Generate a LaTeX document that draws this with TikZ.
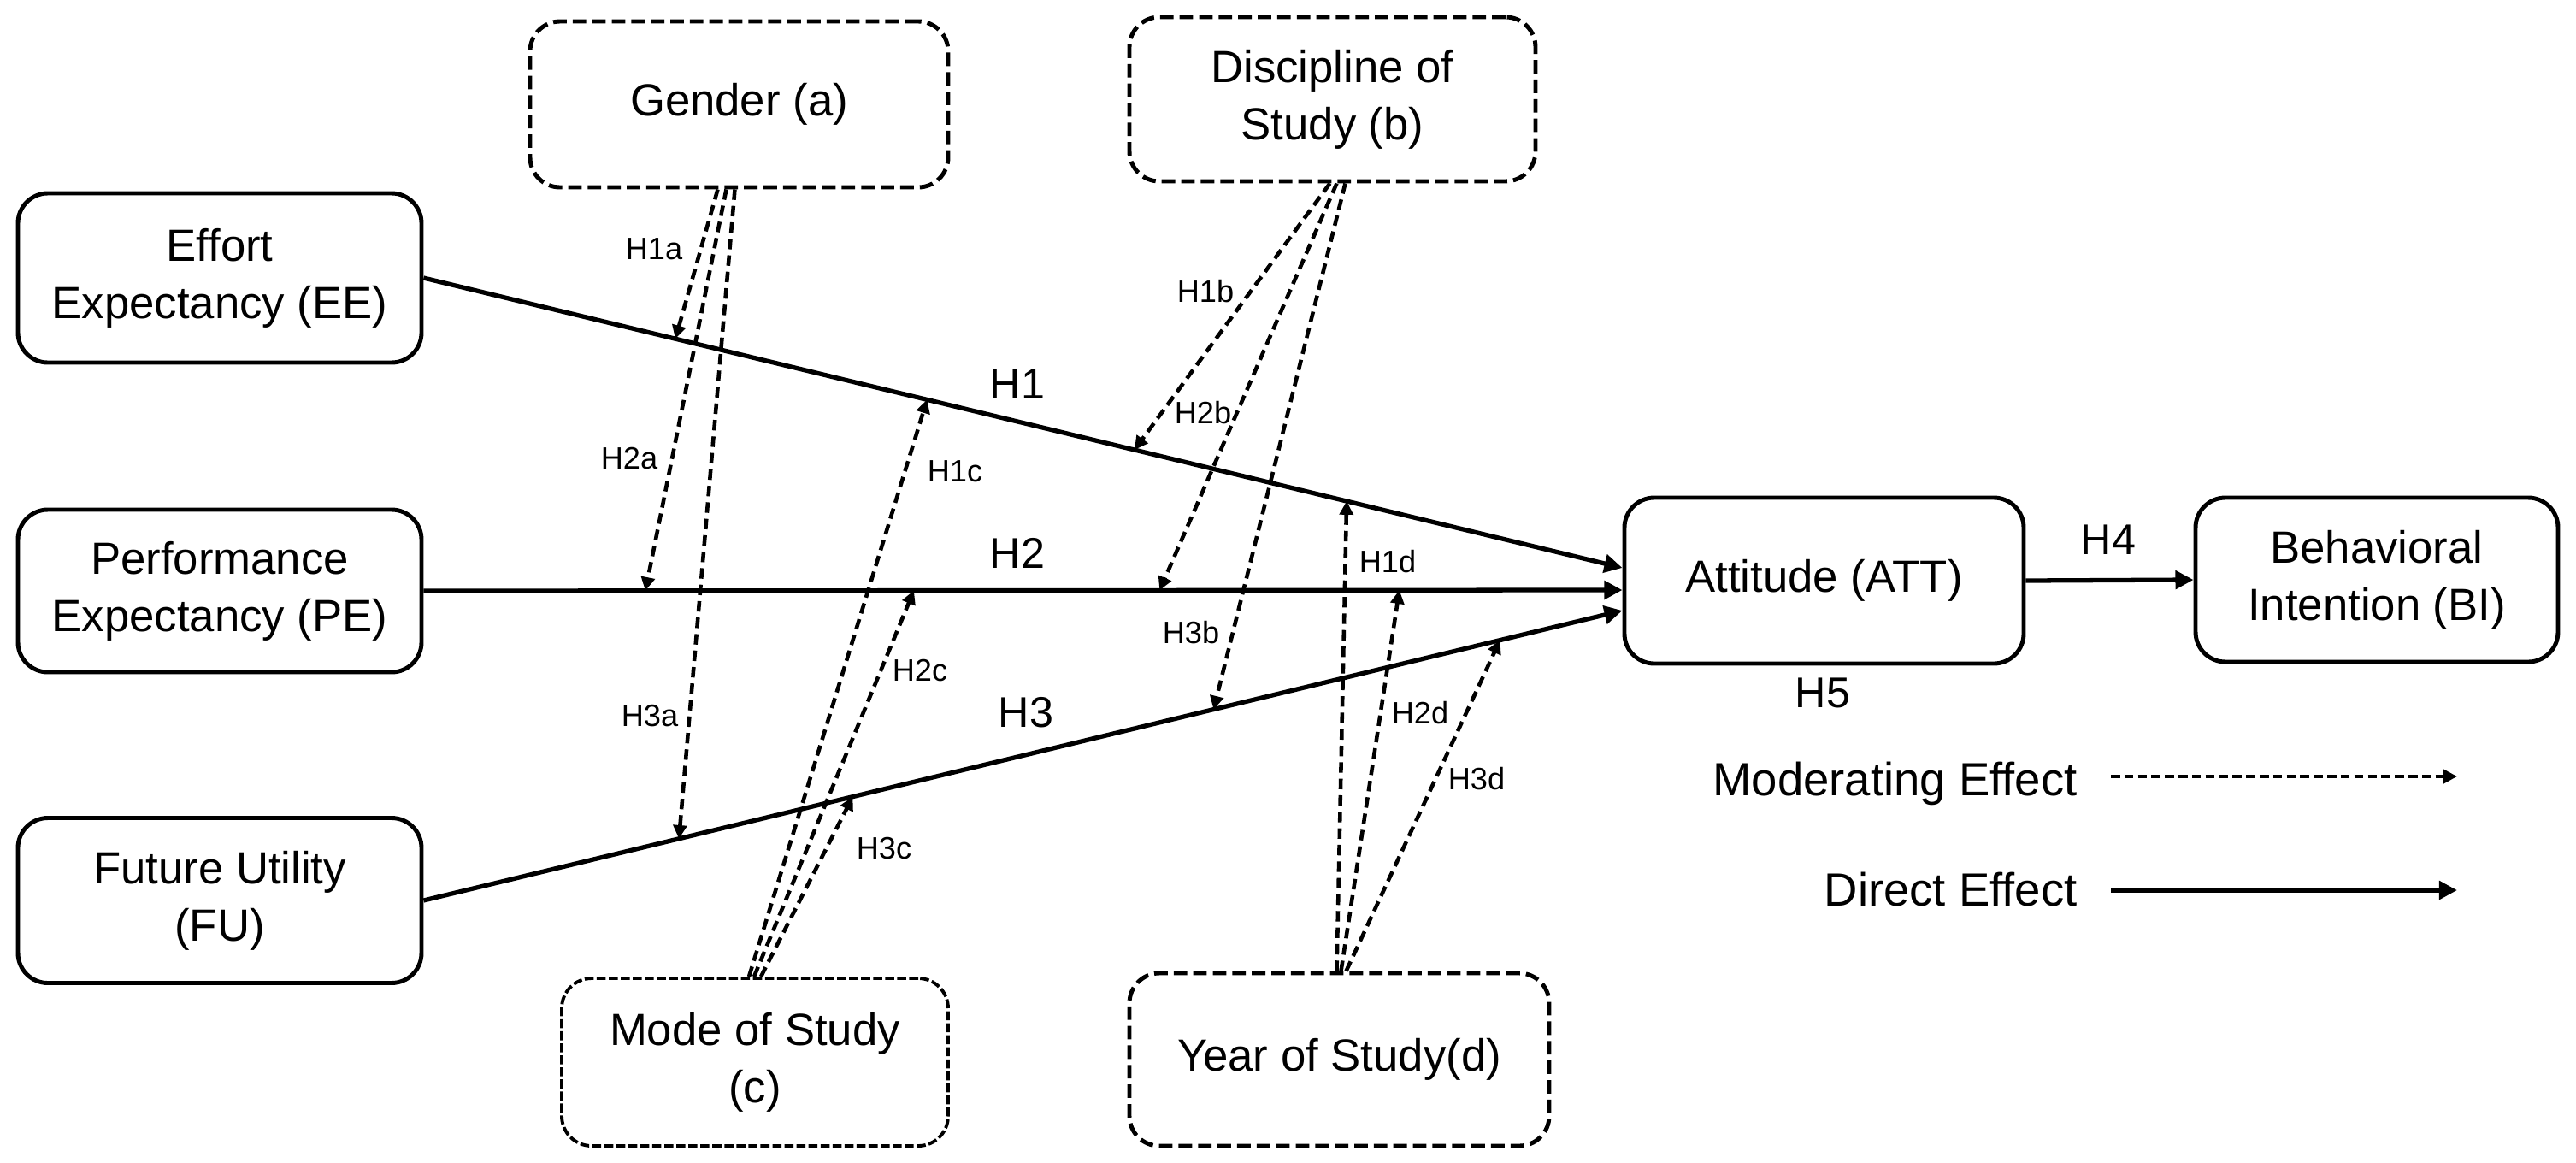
\documentclass[tikz,border=0pt]{standalone}
\usepackage{fontspec}
\setmainfont{Liberation Sans}
\usetikzlibrary{arrows.meta}

\begin{document}
\begin{tikzpicture}[line width=1.4pt]
	\tikzset{construct/.style={draw,rounded corners=0.35cm,align=center,inner sep=0pt,font=\fontsize{15}{19}\selectfont}}
	\tikzset{moderator/.style={construct,dash pattern=on 4.5pt off 2pt}}
	\tikzset{direct/.style={line width=1.5pt,-{Triangle[length=6pt,width=6pt]}}}
	\tikzset{moderating/.style={line width=1.3pt,dash pattern=on 3.5pt off 2pt,-{Triangle[length=4.5pt,width=4.5pt]}}}
	\tikzset{hyp/.style={font=\fontsize{14.3}{17}\selectfont}}
	\tikzset{sub/.style={font=\fontsize{10.3}{12}\selectfont,inner sep=1pt}}

	\useasboundingbox (0,0) rectangle (30.13,-13.59);

	% constructs
	\node[construct,minimum width=4.72cm,minimum height=1.98cm] (ee) at (2.57,-3.25) {Effort\\Expectancy (EE)};
	\node[construct,minimum width=4.72cm,minimum height=1.90cm] (pe) at (2.57,-6.91) {Performance\\Expectancy (PE)};
	\node[construct,minimum width=4.72cm,minimum height=1.93cm] (fu) at (2.57,-10.53) {Future Utility\\(FU)};
	\node[construct,minimum width=4.67cm,minimum height=1.94cm] (att) at (21.335,-6.79) {Attitude (ATT)};
	\node[construct,minimum width=4.24cm,minimum height=1.92cm] (bi) at (27.80,-6.78) {Behavioral\\Intention (BI)};

	% moderators
	\node[moderator,minimum width=4.89cm,minimum height=1.94cm] (gen) at (8.645,-1.22) {Gender (a)};
	\node[moderator,minimum width=4.75cm,minimum height=1.92cm] (disc) at (15.585,-1.16) {Discipline of\\Study (b)};
	\node[moderator,dash pattern=on 3pt off 1pt,line width=1.1pt,minimum width=4.52cm,minimum height=1.96cm] (mode) at (8.83,-12.42) {Mode of Study\\(c)};
	\node[moderator,minimum width=4.91cm,minimum height=2.02cm] (year) at (15.665,-12.39) {Year of Study(d)};

	% direct effects
	\draw[direct] (ee.east) -- coordinate[pos=0.210] (h1a) coordinate[pos=0.420] (h1c)
		coordinate[pos=0.593] (h1b) coordinate[pos=0.770] (h1d) ([yshift=0.15cm]att.west);
	\draw[direct] (pe.east) -- coordinate[pos=0.185] (h2a) coordinate[pos=0.409] (h2c)
		coordinate[pos=0.614] (h2b) coordinate[pos=0.814] (h2d) ([yshift=-0.11cm]att.west);
	\draw[direct] (fu.east) -- coordinate[pos=0.213] (h3a) coordinate[pos=0.358] (h3c)
		coordinate[pos=0.659] (h3b) coordinate[pos=0.898] (h3d) ([yshift=-0.35cm]att.west);
	\draw[direct] (att.east) -- (bi.west);

	% moderating effects
	\draw[moderating] ([xshift=-2.5mm]gen.south) -- (h1a);
	\draw[moderating] ([xshift=-1.5mm]gen.south) -- (h2a);
	\draw[moderating] ([xshift=-0.5mm]gen.south) -- (h3a);
	\draw[moderating] ([xshift=-0.3mm]disc.south) -- (h1b);
	\draw[moderating] ([xshift=0.5mm]disc.south) -- (h2b);
	\draw[moderating] ([xshift=1.5mm]disc.south) -- (h3b);
	\draw[moderating] ([xshift=-0.7mm]mode.north) -- (h1c);
	\draw[moderating] ([xshift=-0.1mm]mode.north) -- (h2c);
	\draw[moderating] ([xshift=0.7mm]mode.north) -- (h3c);
	\draw[moderating] ([xshift=-0.3mm]year.north) -- (h1d);
	\draw[moderating] ([xshift=0.2mm]year.north) -- (h2d);
	\draw[moderating] ([xshift=0.8mm]year.north) -- (h3d);

	\node[hyp] (t1) at (11.90,-4.49) {H1};
	\node[hyp] (t2) at (11.90,-6.47) {H2};
	\node[hyp] (t3) at (12.00,-8.33) {H3};
	\node[hyp] (t4) at (24.66,-6.31) {H4};
	\node[hyp] (t5) at (21.32,-8.10) {H5};

	\node[sub] (t1a) at (7.65,-2.91) {H1a};
	\node[sub] (t2a) at (7.36,-5.36) {H2a};
	\node[sub] (t3a) at (7.60,-8.37) {H3a};
	\node[sub] (t1b) at (14.10,-3.41) {H1b};
	\node[sub] (t2b) at (14.07,-4.83) {H2b};
	\node[sub] (t3b) at (13.93,-7.40) {H3b};
	\node[sub] (t1c) at (11.17,-5.51) {H1c};
	\node[sub] (t2c) at (10.76,-7.84) {H2c};
	\node[sub] (t3c) at (10.34,-9.92) {H3c};
	\node[sub] (t1d) at (16.23,-6.57) {H1d};
	\node[sub] (t2d) at (16.61,-8.34) {H2d};
	\node[sub] (t3d) at (17.27,-9.11) {H3d};

	% legend
	\node[anchor=base east,inner sep=0pt,font=\fontsize{15.5}{19}\selectfont] (modlbl) at (24.32,-9.30) {Moderating Effect};
	\node[anchor=base east,inner sep=0pt,font=\fontsize{15.5}{19}\selectfont] (dirlbl) at (24.32,-10.59) {Direct Effect};
	\coordinate (moda) at (24.69,-9.08);
	\coordinate (modb) at (28.74,-9.08);
	\coordinate (dira) at (24.69,-10.41);
	\coordinate (dirb) at (28.74,-10.41);
	\draw[moderating,dash pattern=on 3pt off 1.5pt] (moda) -- (modb);
	\draw[direct] (dira) -- (dirb);

\end{tikzpicture}
\end{document}
